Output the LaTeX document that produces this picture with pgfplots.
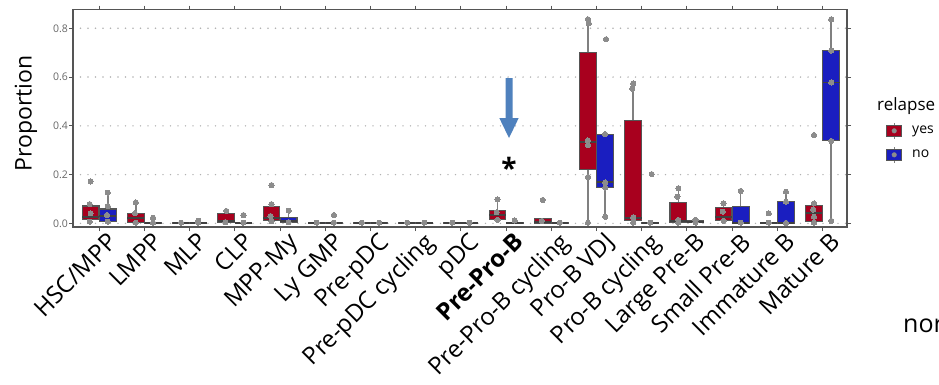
\documentclass[border=0pt]{standalone}
\usepackage{pgfplots}
\pgfplotsset{compat=1.18}
\usepgfplotslibrary{statistics}
\usepackage{fontspec}
\setmainfont{Open Sans}
\definecolor{relred}{HTML}{A8001E}
\definecolor{relblue}{HTML}{1A1EC0}
\definecolor{boxline}{HTML}{555555}
\definecolor{ptgray}{HTML}{8C8C8C}
\definecolor{arrowblue}{HTML}{4F81BD}
% position, lower whisker, lower quartile, median, upper quartile, upper whisker, colour
\newcommand{\bx}[7]{\addplot[fill=#7, draw=boxline, line width=1.1pt,
  boxplot prepared={draw direction=y, draw position=#1, lower whisker=#2, lower quartile=#3,
  median=#4, upper quartile=#5, upper whisker=#6}] coordinates {};}
\begin{document}
\begin{tikzpicture}[x=1pt,y=1pt]
\useasboundingbox (0,0) rectangle (939,384);
\begin{axis}[
  at={(73pt,157pt)}, anchor=south west,
  scale only axis, width=774pt, height=217.5pt,
  xmin=-0.58, xmax=16.54, ymin=-0.015, ymax=0.877,
  axis line style={draw=boxline, line width=1.2pt},
  tick align=outside, major tick length=4pt,
  tick style={draw=boxline, line width=1pt},
  xtick={0,...,16},
  xticklabels={HSC/MPP, LMPP, MLP, CLP, MPP-My, Ly GMP, Pre-pDC, Pre-pDC cycling, pDC, \textbf{Pre-Pro-B}, Pre-Pro-B cycling, Pro-B VDJ, Pro-B cycling, Large Pre-B, Small Pre-B, Immature B, Mature B},
  xticklabel style={rotate=45, anchor=north east, inner sep=0pt, font=\fontsize{24}{24}\selectfont, xshift=5pt, yshift=-5pt},
  ytick={0,0.2,0.4,0.6,0.8},
  yticklabels={0.0,0.2,0.4,0.6,0.8},
  yticklabel style={font=\fontsize{10.5}{12}\selectfont, text=black!60, inner sep=1pt},
  ymajorgrids,
  grid style={draw=black!30, line width=1.6pt, dash pattern=on 0pt off 7.5pt, line cap=round},
  ylabel={Proportion},
  ylabel style={at={(axis description cs:-0.0607,0.522)}, anchor=center, rotate=0, font=\fontsize{23}{23}\selectfont},
  boxplot/draw direction=y,
  boxplot/box extend=0.37,
  boxplot/whisker extend=0,
  boxplot/every median/.style={draw=black!75, line width=1.8pt},
  boxplot/every whisker/.style={draw=black!50, line width=1.4pt},
  legend style={at={(axis description cs:1.0504,0.387)}, anchor=west, draw=none, fill=none, inner sep=0pt, row sep=7pt,
    font=\fontsize{14}{14}\selectfont, nodes={inner sep=1pt},
    /tikz/every odd column/.append style={column sep=9pt}},
  legend cell align=left,
]
\addlegendimage{legend image code/.code={\draw[black!50, line width=1pt] (7.5pt,-8pt)--(7.5pt,8pt); \draw[fill=relred, draw=boxline, line width=1pt] (0pt,-5.5pt) rectangle (15pt,5.5pt); \fill[ptgray] (7.5pt,0pt) circle (2.3pt);}}
\addlegendentry{yes}
\addlegendimage{legend image code/.code={\draw[black!50, line width=1pt] (7.5pt,-8pt)--(7.5pt,8pt); \draw[fill=relblue, draw=boxline, line width=1pt] (0pt,-5.5pt) rectangle (15pt,5.5pt); \fill[ptgray] (7.5pt,0pt) circle (2.3pt);}}
\addlegendentry{no}
% relapse = yes
\bx{-0.19}{0.005}{0.014}{0.027}{0.071}{0.079}{relred}
\bx{0.81}{0.003}{0.003}{0.021}{0.040}{0.086}{relred}
\bx{1.81}{0}{0}{0.001}{0.003}{0.003}{relred}
\bx{2.81}{0.003}{0.003}{0.011}{0.040}{0.051}{relred}
\bx{3.81}{0.005}{0.011}{0.021}{0.068}{0.079}{relred}
\bx{4.81}{0}{0}{0.001}{0.003}{0.003}{relred}
\bx{5.81}{0}{0}{0.001}{0.003}{0.003}{relred}
\bx{6.81}{0}{0}{0.001}{0.003}{0.003}{relred}
\bx{7.81}{0}{0}{0.001}{0.003}{0.003}{relred}
\bx{8.81}{0.014}{0.014}{0.034}{0.051}{0.098}{relred}
\bx{9.81}{0}{0}{0.007}{0.021}{0.021}{relred}
\bx{10.81}{0.003}{0.222}{0.332}{0.700}{0.837}{relred}
\bx{11.81}{0.011}{0.011}{0.021}{0.421}{0.574}{relred}
\bx{12.81}{0.003}{0.003}{0.011}{0.086}{0.144}{relred}
\bx{13.81}{0.010}{0.010}{0.027}{0.066}{0.082}{relred}
\bx{14.81}{0}{0}{0.001}{0.003}{0.003}{relred}
\bx{15.81}{0.007}{0.007}{0.044}{0.075}{0.082}{relred}
% relapse = no
\bx{0.19}{0.007}{0.007}{0.030}{0.059}{0.126}{relblue}
\bx{1.19}{0}{0}{0.002}{0.004}{0.023}{relblue}
\bx{2.19}{0}{0}{0.001}{0.003}{0.003}{relblue}
\bx{3.19}{0}{0}{0.001}{0.003}{0.003}{relblue}
\bx{4.19}{0.003}{0.003}{0.011}{0.025}{0.052}{relblue}
\bx{5.19}{0}{0}{0.001}{0.003}{0.003}{relblue}
\bx{6.19}{0}{0}{0.001}{0.003}{0.003}{relblue}
\bx{7.19}{0}{0}{0.001}{0.003}{0.003}{relblue}
\bx{8.19}{0}{0}{0.001}{0.003}{0.003}{relblue}
\bx{9.19}{0}{0}{0.001}{0.003}{0.003}{relblue}
\bx{10.19}{0}{0}{0.001}{0.003}{0.003}{relblue}
\bx{11.19}{0.027}{0.146}{0.168}{0.366}{0.366}{relblue}
\bx{12.19}{0}{0}{0.001}{0.003}{0.003}{relblue}
\bx{13.19}{0.003}{0.003}{0.005}{0.012}{0.014}{relblue}
\bx{14.19}{0}{0}{0.003}{0.068}{0.133}{relblue}
\bx{15.19}{0}{0}{0.001}{0.089}{0.130}{relblue}
\bx{16.19}{0.010}{0.338}{0.578}{0.708}{0.837}{relblue}
% individual samples
\addplot[ptgray, only marks, mark=*, mark size=2.6pt, mark options={solid, draw=ptgray, fill=ptgray, line width=0pt}] coordinates {
(-0.19,0.172) (-0.21,0.079) (-0.19,0.041) (-0.21,0.007)
(0.81,0.086) (0.79,0.041) (0.81,0.003)
(1.81,0.003)
(2.81,0.051) (2.79,0.005)
(3.81,0.157) (3.81,0.079) (3.79,0.030) (3.81,0.008)
(4.81,0.003) (5.81,0.003) (6.81,0.003) (7.81,0.003)
(8.81,0.098) (8.79,0.045) (8.81,0.014)
(9.81,0.096) (9.79,0.010)
(10.81,0.837) (10.83,0.820) (10.81,0.340) (10.81,0.320) (10.81,0.190) (10.81,0.003)
(11.81,0.574) (11.79,0.552) (11.81,0.025) (11.81,0.003)
(12.81,0.144) (12.79,0.109) (12.81,0.014) (12.81,0.003)
(13.81,0.082) (13.79,0.048) (13.81,0.010)
(14.81,0.041) (14.81,0.003)
(15.81,0.362) (15.81,0.082) (15.79,0.057) (15.81,0.027) (15.81,0.003)
(0.19,0.126) (0.19,0.071) (0.17,0.034) (0.19,0.007)
(1.19,0.023) (1.19,0.003)
(2.19,0.011) (2.19,0.003)
(3.19,0.034) (3.19,0.003)
(4.19,0.052) (4.19,0.005)
(5.19,0.034) (5.19,0.003)
(6.19,0.003) (7.19,0.003) (8.19,0.003)
(9.19,0.012) (10.19,0.003)
(11.21,0.755) (11.19,0.366) (11.19,0.168) (11.19,0.146) (11.19,0.027)
(12.22,0.202) (12.19,0.003)
(13.19,0.014) (13.19,0.003)
(14.19,0.133) (14.19,0.003)
(15.19,0.130) (15.19,0.089) (15.19,0.002)
(16.19,0.837) (16.19,0.708) (16.19,0.578) (16.19,0.338) (16.19,0.010)
};
\end{axis}
% annotations
\fill[arrowblue] (505.7,306) -- (512.7,306) -- (512.7,266) -- (518.7,266) -- (509,246) -- (499.3,266) -- (505.7,266) -- cycle;
\node[anchor=center, font=\bfseries\fontsize{28}{28}\selectfont, inner sep=0pt] at (509,216) {*};
\node[anchor=west, font=\fontsize{17}{17}\selectfont, inner sep=0pt] at (877,278) {relapse};
\node[anchor=base west, font=\fontsize{25}{25}\selectfont, inner sep=0pt] at (903,52) {nor};
\end{tikzpicture}
\end{document}
